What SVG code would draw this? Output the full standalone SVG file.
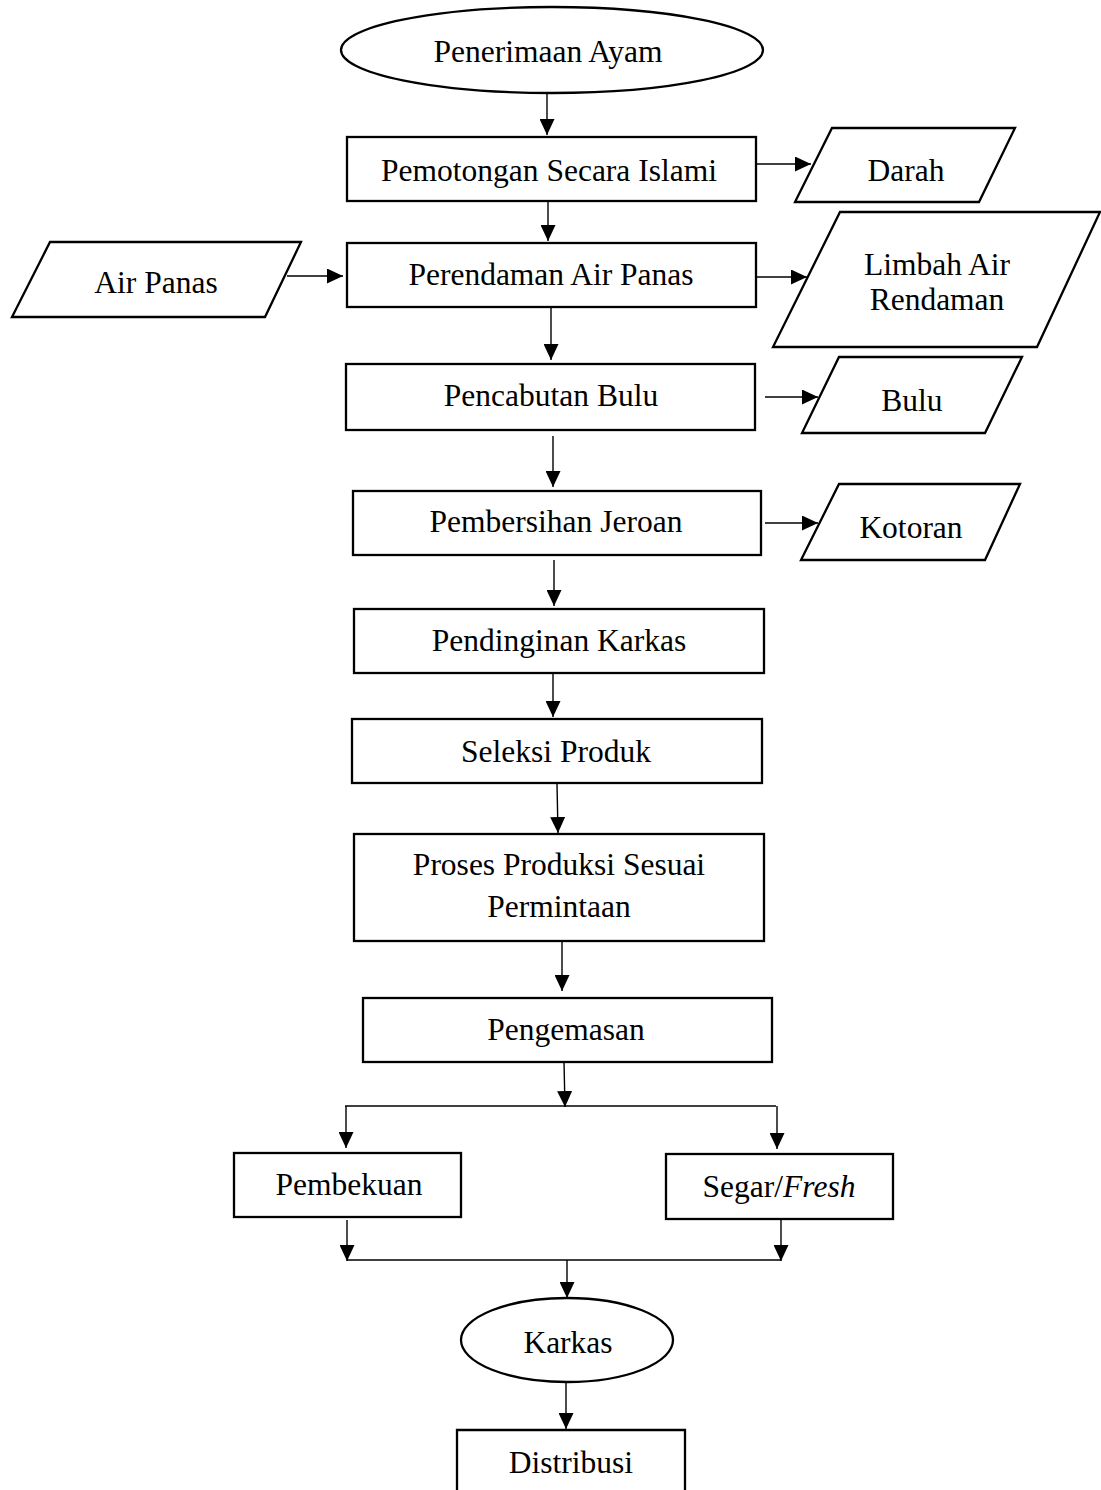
<svg xmlns="http://www.w3.org/2000/svg" width="1101" height="1490" viewBox="0 0 1101 1490">
<style>
.box{fill:#fff;stroke:#000;stroke-width:2.3}
.t{font-family:"Liberation Serif","Times New Roman",serif;font-size:31.5px;fill:#000;text-anchor:middle}
.c{fill:none;stroke:#000;stroke-width:1.4}
.ca{fill:none;stroke:#000;stroke-width:1.4;marker-end:url(#ah)}
</style>
<defs>
<marker id="ah" markerWidth="16" markerHeight="15" refX="16" refY="7.5" orient="auto" markerUnits="userSpaceOnUse">
<path d="M0,0 L16,7.5 L0,15 Z" fill="#000"/>
</marker>
</defs>
<rect width="1101" height="1490" fill="#fff"/>
<g id="connectors">
<line class="ca" x1="547" y1="93" x2="547" y2="135"/>
<line class="ca" x1="755" y1="164" x2="811" y2="164"/>
<line class="ca" x1="548" y1="201" x2="548" y2="241"/>
<line class="ca" x1="287" y1="276" x2="343" y2="276"/>
<line class="ca" x1="756" y1="277" x2="807" y2="277"/>
<line class="ca" x1="551" y1="307" x2="551" y2="360"/>
<line class="ca" x1="765" y1="397" x2="818" y2="397"/>
<line class="ca" x1="553" y1="436" x2="553" y2="487"/>
<line class="ca" x1="765" y1="523" x2="818" y2="523"/>
<line class="ca" x1="554" y1="560" x2="554" y2="606"/>
<line class="ca" x1="553" y1="674" x2="553" y2="717"/>
<line class="ca" x1="557" y1="784" x2="558" y2="833"/>
<line class="ca" x1="562" y1="941" x2="562" y2="991"/>
<line class="ca" x1="564" y1="1062" x2="565" y2="1107"/>
<line class="c" x1="345" y1="1106" x2="776" y2="1106"/>
<line class="ca" x1="346" y1="1106" x2="346" y2="1148"/>
<line class="ca" x1="777" y1="1106" x2="777" y2="1149"/>
<line class="ca" x1="347" y1="1220" x2="347" y2="1261"/>
<line class="ca" x1="781" y1="1220" x2="781" y2="1261"/>
<line class="c" x1="347" y1="1260" x2="781" y2="1260"/>
<line class="ca" x1="567" y1="1260" x2="567" y2="1298"/>
<line class="ca" x1="566" y1="1382" x2="566" y2="1429"/>
</g>
<g id="penerimaan">
<ellipse class="box" cx="552" cy="50" rx="211" ry="43"/>
<text class="t" x="548" y="62">Penerimaan Ayam</text>
</g>
<g id="pemotongan">
<rect class="box" x="347" y="137" width="409" height="64"/>
<text class="t" x="549" y="181">Pemotongan Secara Islami</text>
</g>
<g id="darah">
<polygon class="box" points="832,128 1015,128 979,202 795,202"/>
<text class="t" x="906" y="181">Darah</text>
</g>
<g id="air-panas">
<polygon class="box" points="50,242 301,242 265,317 12,317"/>
<text class="t" x="156" y="293">Air Panas</text>
</g>
<g id="perendaman">
<rect class="box" x="347" y="243" width="409" height="64"/>
<text class="t" x="551" y="285">Perendaman Air Panas</text>
</g>
<g id="limbah">
<polygon class="box" points="840,212 1100,212 1037,347 773,347"/>
<text class="t" x="937" y="275">Limbah Air</text>
<text class="t" x="937" y="310">Rendaman</text>
</g>
<g id="pencabutan">
<rect class="box" x="346" y="364" width="409" height="66"/>
<text class="t" x="551" y="406">Pencabutan Bulu</text>
</g>
<g id="bulu">
<polygon class="box" points="839,357 1022,357 985,433 802,433"/>
<text class="t" x="912" y="411">Bulu</text>
</g>
<g id="pembersihan">
<rect class="box" x="353" y="491" width="408" height="64"/>
<text class="t" x="556" y="532">Pembersihan Jeroan</text>
</g>
<g id="kotoran">
<polygon class="box" points="839,484 1020,484 985,560 801,560"/>
<text class="t" x="911" y="538">Kotoran</text>
</g>
<g id="pendinginan">
<rect class="box" x="354" y="609" width="410" height="64"/>
<text class="t" x="559" y="651">Pendinginan Karkas</text>
</g>
<g id="seleksi">
<rect class="box" x="352" y="719" width="410" height="64"/>
<text class="t" x="556" y="762">Seleksi Produk</text>
</g>
<g id="proses">
<rect class="box" x="354" y="834" width="410" height="107"/>
<text class="t" x="559" y="875">Proses Produksi Sesuai</text>
<text class="t" x="559" y="917">Permintaan</text>
</g>
<g id="pengemasan">
<rect class="box" x="363" y="998" width="409" height="64"/>
<text class="t" x="566" y="1040">Pengemasan</text>
</g>
<g id="pembekuan">
<rect class="box" x="234" y="1153" width="227" height="64"/>
<text class="t" x="349" y="1195">Pembekuan</text>
</g>
<g id="segar">
<rect class="box" x="666" y="1154" width="227" height="65"/>
<text class="t" x="779" y="1197">Segar/<tspan font-style="italic">Fresh</tspan></text>
</g>
<g id="karkas">
<ellipse class="box" cx="567" cy="1340" rx="106" ry="42"/>
<text class="t" x="568" y="1353">Karkas</text>
</g>
<g id="distribusi">
<path class="box" d="M457,1495 V1430 H685 V1495"/>
<text class="t" x="571" y="1473">Distribusi</text>
</g>
</svg>
